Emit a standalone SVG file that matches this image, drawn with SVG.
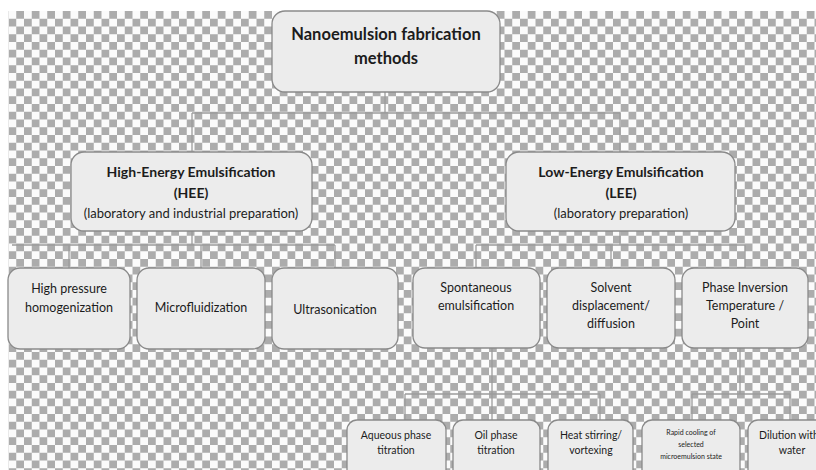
<svg xmlns="http://www.w3.org/2000/svg" width="816" height="470" viewBox="0 0 816 470">
  <defs>
    <pattern id="checker" patternUnits="userSpaceOnUse" x="8.5" y="11" width="15.5" height="15.5">
      <rect width="15.5" height="15.5" fill="#fbfbfb"/>
      <rect x="7.75" y="0" width="7.75" height="7.75" fill="#acacac"/>
      <rect x="0" y="7.75" width="7.75" height="7.75" fill="#acacac"/>
    </pattern>
  </defs>
  <style>
    .box { fill: #ececec; stroke: #8a8a8a; stroke-width: 1.3; }
    .wire { fill: none; stroke: #9c9c9c; stroke-width: 1.3; }
    text { font-family: "Lato", "Liberation Sans", sans-serif; fill: #1c1c1c; text-anchor: middle; }
    .title { font-size: 16.5px; font-weight: bold; }
    .head { font-size: 14px; font-weight: bold; }
    .sub { font-size: 13px; }
    .leaf { font-size: 12.5px; }
    .small { font-size: 10.5px; }
    .tiny { font-size: 7px; }
  </style>

  <!-- background -->
  <rect width="816" height="470" fill="#ffffff"/>
  <rect x="8.5" y="11" width="807.5" height="459" fill="url(#checker)"/>

  <!-- connectors -->
  <g id="connectors">
    <path class="wire" d="M385 92 V113 M192 113 H620 M192 113 V152 M620 113 V152"/>
    <path class="wire" d="M192 231 V245 M12 245 H335 M69 245 V268 M201 245 V268 M335 245 V268"/>
    <path class="wire" d="M620 231 V245 M476 245 H745 M476 245 V268 M611 245 V268 M745 245 V268"/>
    <path class="wire" d="M492 348 V394 M405 394 H600 M405 394 V420 M492 394 V420 M600 394 V420"/>
    <path class="wire" d="M740 348 V394 M692 394 H790 M692 394 V420 M790 394 V420"/>
  </g>

  <!-- root -->
  <g id="root">
    <rect class="box" x="272" y="11" width="228" height="81" rx="13"/>
    <text class="title" x="386" y="40">Nanoemulsion fabrication</text>
    <text class="title" x="386" y="64">methods</text>
  </g>

  <!-- branches -->
  <g id="hee">
    <rect class="box" x="71" y="152" width="241" height="79" rx="13"/>
    <text class="head" x="191" y="177">High-Energy Emulsification</text>
    <text class="head" x="191" y="198">(HEE)</text>
    <text class="sub" x="191" y="218">(laboratory and industrial preparation)</text>
  </g>
  <g id="lee">
    <rect class="box" x="506" y="152" width="229" height="79" rx="13"/>
    <text class="head" x="621" y="177">Low-Energy Emulsification</text>
    <text class="head" x="621" y="198">(LEE)</text>
    <text class="sub" x="621" y="218">(laboratory preparation)</text>
  </g>

  <!-- high-energy methods -->
  <g id="hph">
    <rect class="box" x="8" y="268" width="122" height="81" rx="12"/>
    <text class="leaf" x="69" y="293">High pressure</text>
    <text class="leaf" x="69" y="312">homogenization</text>
  </g>
  <g id="microfluidization">
    <rect class="box" x="137" y="268" width="128" height="81" rx="12"/>
    <text class="leaf" x="201" y="312">Microfluidization</text>
  </g>
  <g id="ultrasonication">
    <rect class="box" x="272" y="268" width="126" height="81" rx="12"/>
    <text class="leaf" x="335" y="314">Ultrasonication</text>
  </g>

  <!-- low-energy methods -->
  <g id="spontaneous">
    <rect class="box" x="413" y="268" width="127" height="80" rx="12"/>
    <text class="leaf" x="476" y="292">Spontaneous</text>
    <text class="leaf" x="476" y="310">emulsification</text>
  </g>
  <g id="solvent">
    <rect class="box" x="547" y="268" width="128" height="80" rx="12"/>
    <text class="leaf" x="611" y="292">Solvent</text>
    <text class="leaf" x="611" y="310">displacement/</text>
    <text class="leaf" x="611" y="328">diffusion</text>
  </g>
  <g id="pit">
    <rect class="box" x="682" y="268" width="126" height="80" rx="12"/>
    <text class="leaf" x="745" y="292">Phase Inversion</text>
    <text class="leaf" x="745" y="310">Temperature /</text>
    <text class="leaf" x="745" y="328">Point</text>
  </g>

  <!-- sub-methods -->
  <g id="aqueous">
    <rect class="box" x="347" y="420" width="99" height="70" rx="10"/>
    <text class="small" x="396" y="439">Aqueous phase</text>
    <text class="small" x="396" y="454">titration</text>
  </g>
  <g id="oil">
    <rect class="box" x="453" y="420" width="87" height="70" rx="10"/>
    <text class="small" x="496" y="439">Oil phase</text>
    <text class="small" x="496" y="454">titration</text>
  </g>
  <g id="heat">
    <rect class="box" x="548" y="420" width="85" height="70" rx="10"/>
    <text class="small" x="591" y="439">Heat stirring/</text>
    <text class="small" x="591" y="454">vortexing</text>
  </g>
  <g id="cooling">
    <rect class="box" x="642" y="420" width="98" height="70" rx="10"/>
    <text class="tiny" x="691" y="435">Rapid cooling of</text>
    <text class="tiny" x="691" y="447">selected</text>
    <text class="tiny" x="691" y="459">microemulsion state</text>
  </g>
  <g id="dilution">
    <rect class="box" x="748" y="420" width="90" height="70" rx="10"/>
    <text class="small" x="759" y="439" style="text-anchor:start">Dilution with</text>
    <text class="small" x="792" y="454">water</text>
  </g>
</svg>
